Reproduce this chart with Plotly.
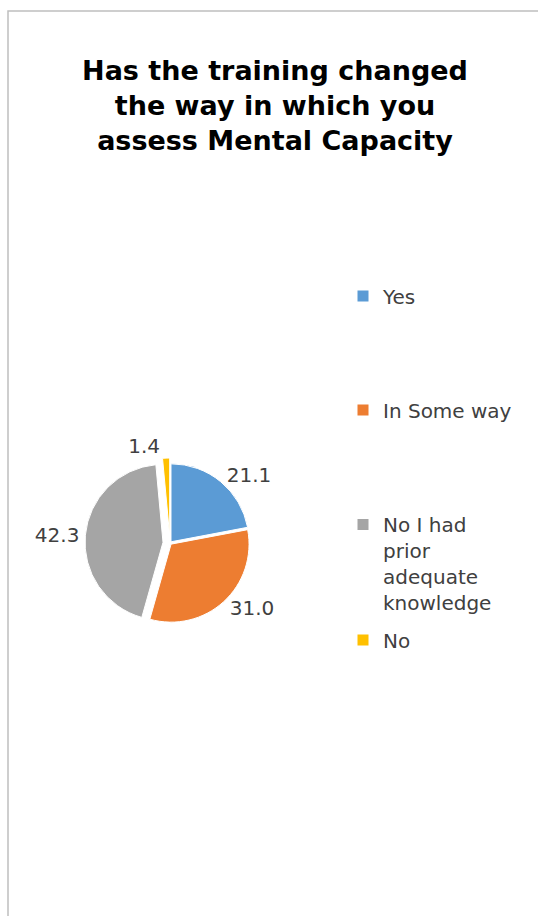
import plotly.graph_objects as go

categories = ["Yes", "In Some way", "No I had prior adequate knowledge", "No"]
legend_names = ["Yes", "In Some way", "No I had<br>prior<br>adequate<br>knowledge", "No"]
values = [21.1, 31.0, 42.3, 1.4]
colors = ["#5B9BD5", "#ED7D31", "#A5A5A5", "#FFC000"]
pulls = [0.02, 0.02, 0.09, 0.09]

W, H = 538, 916
FONT = "DejaVu Sans"

fig = go.Figure()

cx, cy, d = 170, 543, 170
fig.add_trace(go.Pie(
    labels=categories,
    values=values,
    sort=False,
    direction="clockwise",
    rotation=0,
    pull=pulls,
    marker=dict(colors=colors, line=dict(color="white", width=1)),
    texttemplate="%{value:.1f}",
    textposition="outside",
    textfont=dict(family=FONT, size=20, color="#404040"),
    outsidetextfont=dict(family=FONT, size=20, color="#404040"),
    showlegend=False,
    hoverinfo="label+value",
    domain=dict(x=[(cx - d / 2) / W, (cx + d / 2) / W],
                y=[(H - cy - d / 2) / H, (H - cy + d / 2) / H]),
))

legend_ids = ["legend", "legend2", "legend3", "legend4"]
legend_y = [296, 410, 505, 640]
legend_anchor = ["middle", "middle", "top", "middle"]
for name, col, lid in zip(legend_names, colors, legend_ids):
    fig.add_trace(go.Scatter(
        x=[None], y=[None], mode="markers", name=name,
        marker=dict(symbol="square", size=11, color=col),
        legend=lid, showlegend=True, hoverinfo="skip",
    ))

legend_common = dict(
    x=343 / W, xanchor="left",
    font=dict(family=FONT, size=20, color="#404040"),
    bgcolor="rgba(0,0,0,0)", borderwidth=0, itemclick=False, itemdoubleclick=False,
)
layout_legends = {}
for lid, ly, ya in zip(legend_ids, legend_y, legend_anchor):
    layout_legends[lid] = dict(legend_common, y=(H - ly) / H, yanchor=ya, valign="top")

fig.update_layout(
    width=W, height=H,
    margin=dict(l=0, r=0, t=0, b=0),
    paper_bgcolor="white", plot_bgcolor="white",
    title=dict(
        text="<b>Has the training changed<br>the way in which you<br>assess Mental Capacity</b>",
        x=275 / W, xanchor="center", y=(H - 80) / H, yanchor="middle",
        font=dict(family=FONT, size=27, color="#000000"),
    ),
    xaxis=dict(visible=False), yaxis=dict(visible=False),
    shapes=[dict(type="rect", xref="paper", yref="paper",
                 x0=8 / W, x1=1.05, y0=-0.05, y1=(H - 11) / H,
                 line=dict(color="#BFBFBF", width=1.5), fillcolor="rgba(0,0,0,0)")],
    **layout_legends,
)

fig.write_html("out.html", config={"displayModeBar": False},
               post_script="document.body.style.margin='0';document.body.style.padding='0';")
